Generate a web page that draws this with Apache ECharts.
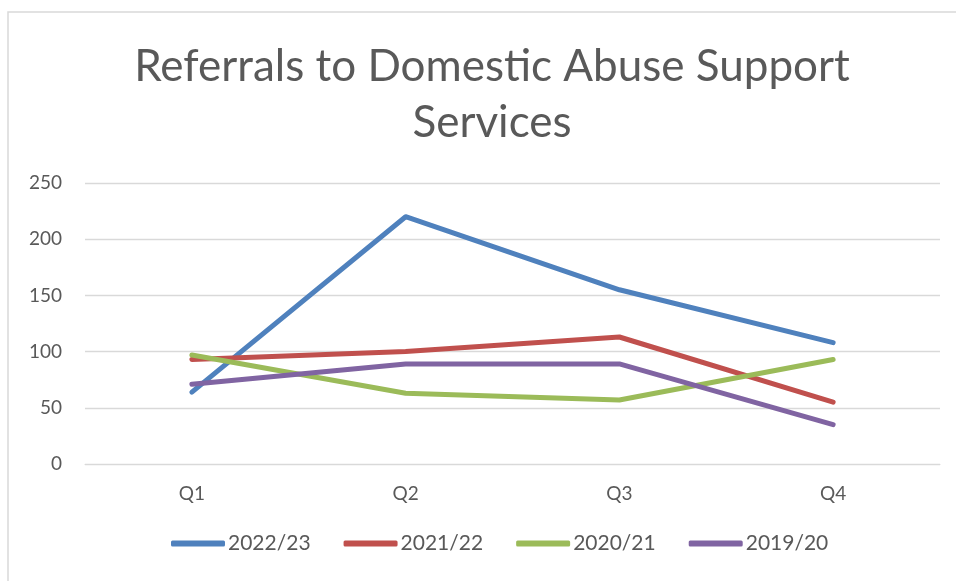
<!DOCTYPE html>
<html>
<head>
<meta charset="utf-8">
<script src="https://cdn.jsdelivr.net/npm/echarts@6/dist/echarts.min.js"></script>
<style>
  html, body { margin: 0; padding: 0; background: #fff; }
  #chart { width: 956px; height: 581px; }
</style>
</head>
<body>
<div id="chart"></div>
<script>
// Quarterly referral counts per financial year
const quarters = ['Q1', 'Q2', 'Q3', 'Q4'];
const fy2223 = [64, 220, 155, 108];
const fy2122 = [93, 100, 113, 55];
const fy2021 = [97, 63, 57, 93];
const fy1920 = [71, 89, 89, 35];

const seriesNames = ['2022/23', '2021/22', '2020/21', '2019/20'];
const seriesData = [fy2223, fy2122, fy2021, fy1920];
const palette = ['#4f81bd', '#c0504d', '#9bbb59', '#8064a2'];

const FONT = 'Lato, "Liberation Sans", sans-serif';
const TEXT = '#595959';

const chart = echarts.init(document.getElementById('chart'), null, { renderer: 'canvas' });

chart.setOption({
  animation: false,
  backgroundColor: '#fff',
  color: palette,
  textStyle: { fontFamily: FONT },
  title: {
    text: 'Referrals to Domestic Abuse Support\nServices',
    left: 487,
    textAlign: 'center',
    top: 34,
    textStyle: {
      fontFamily: FONT,
      fontSize: 44,
      fontWeight: 'normal',
      color: TEXT,
      lineHeight: 56
    }
  },
  graphic: [{
    type: 'rect',
    shape: { x: 8, y: 12, width: 1000, height: 1000 },
    style: { fill: 'none', stroke: '#d9d9d9', lineWidth: 1.5 },
    silent: true,
    z: -1
  }],
  grid: { left: 85, right: 16, top: 183, bottom: 117, containLabel: false },
  legend: {
    bottom: 22,
    left: 166,
    itemWidth: 54,
    itemHeight: 6,
    itemGap: 33,
    icon: 'roundRect',
    textStyle: { fontFamily: FONT, fontSize: 21, color: TEXT, padding: [0, 0, 0, -2] },
    data: seriesNames
  },
  xAxis: {
    type: 'category',
    data: quarters,
    boundaryGap: true,
    axisLine: { lineStyle: { color: '#d9d9d9', width: 1 } },
    axisTick: { show: false },
    axisLabel: { color: TEXT, fontSize: 19, fontFamily: FONT, margin: 20 }
  },
  yAxis: {
    type: 'value',
    min: 0,
    max: 250,
    interval: 50,
    axisLine: { show: false },
    axisTick: { show: false },
    axisLabel: { color: TEXT, fontSize: 19, fontFamily: FONT, margin: 23 },
    splitLine: { lineStyle: { color: '#d9d9d9', width: 1.3 } }
  },
  series: seriesNames.map((name, i) => ({
    name: name,
    type: 'line',
    data: seriesData[i],
    symbol: 'none',
    lineStyle: { width: 5, color: palette[i], cap: 'round', join: 'round' },
    itemStyle: { color: palette[i] }
  }))
});
</script>
</body>
</html>
